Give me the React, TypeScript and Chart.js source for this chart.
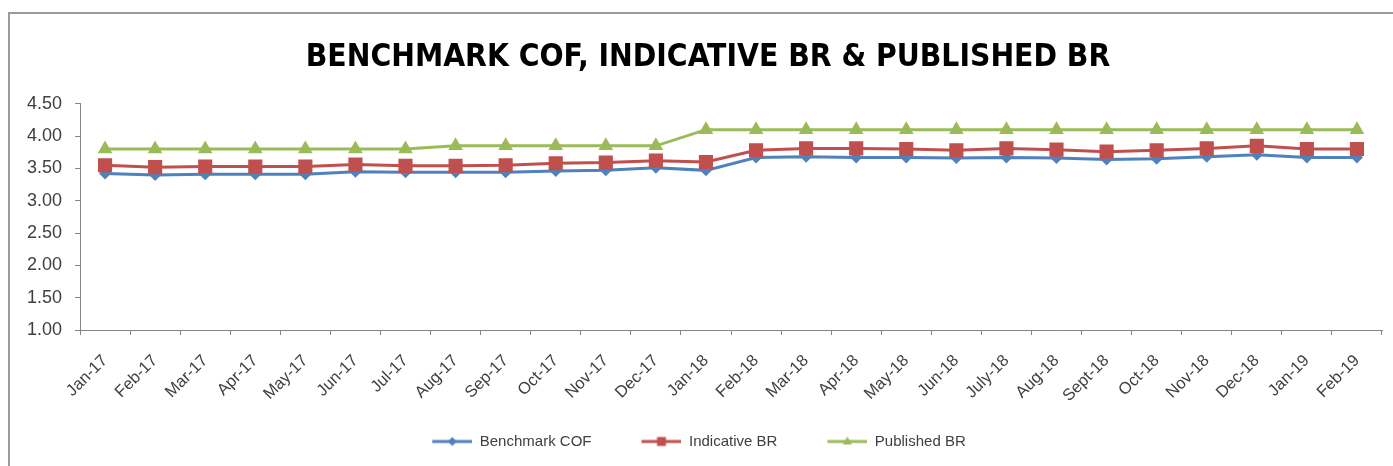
import React, { useEffect, useRef } from "react";
import { Chart, registerables } from "chart.js";

Chart.register(...registerables);

const TITLE = "BENCHMARK COF, INDICATIVE BR & PUBLISHED BR";
const MONTHS = [
  "Jan-17", "Feb-17", "Mar-17", "Apr-17", "May-17", "Jun-17", "Jul-17", "Aug-17",
  "Sep-17", "Oct-17", "Nov-17", "Dec-17", "Jan-18", "Feb-18", "Mar-18", "Apr-18",
  "May-18", "Jun-18", "July-18", "Aug-18", "Sept-18", "Oct-18", "Nov-18", "Dec-18",
  "Jan-19", "Feb-19",
];
const BENCHMARK_COF = [
  3.42, 3.40, 3.41, 3.41, 3.41, 3.45, 3.44, 3.44, 3.44, 3.46, 3.47, 3.51, 3.47,
  3.67, 3.68, 3.67, 3.67, 3.66, 3.67, 3.66, 3.64, 3.65, 3.68, 3.71, 3.67, 3.67,
];
const INDICATIVE_BR = [
  3.55, 3.52, 3.53, 3.53, 3.53, 3.56, 3.54, 3.54, 3.55, 3.58, 3.59, 3.62, 3.60,
  3.78, 3.81, 3.81, 3.80, 3.78, 3.81, 3.79, 3.76, 3.78, 3.81, 3.85, 3.80, 3.80,
];
const PUBLISHED_BR = [
  3.80, 3.80, 3.80, 3.80, 3.80, 3.80, 3.80, 3.85, 3.85, 3.85, 3.85, 3.85, 4.10,
  4.10, 4.10, 4.10, 4.10, 4.10, 4.10, 4.10, 4.10, 4.10, 4.10, 4.10, 4.10, 4.10,
];
const SERIES_NAMES = ["Benchmark COF", "Indicative BR", "Published BR"];
const COLORS = ["#4F81BD", "#C0504D", "#9BBB59"];
const Y_MIN = 1.0;
const Y_MAX = 4.5;
const Y_STEP = 0.5;

const ICON_GAP = 20;

function legendIcon(color: string, kind: string): HTMLCanvasElement {
  const c = document.createElement("canvas");
  c.width = 40 + ICON_GAP;
  c.height = 14;
  const ctx = c.getContext("2d")!;
  ctx.translate(ICON_GAP, 0);
  ctx.strokeStyle = color;
  ctx.lineWidth = 3;
  ctx.beginPath();
  ctx.moveTo(0, 7);
  ctx.lineTo(40, 7);
  ctx.stroke();
  ctx.fillStyle = color;
  ctx.beginPath();
  if (kind === "diamond") {
    ctx.moveTo(20, 2.5);
    ctx.lineTo(24.5, 7);
    ctx.lineTo(20, 11.5);
    ctx.lineTo(15.5, 7);
  } else if (kind === "square") {
    ctx.rect(15.5, 2.5, 9, 9);
  } else {
    ctx.moveTo(20, 2);
    ctx.lineTo(24.5, 10);
    ctx.lineTo(15.5, 10);
  }
  ctx.closePath();
  ctx.fill();
  return c;
}

const shiftBlocks = {
  id: "shiftBlocks",
  afterLayout(chart: any) {
    const t = chart.titleBlock;
    if (t) t.left += 24;
    const l = chart.legend;
    if (l) l.left -= 14;
  },
};

export default function App() {
  const ref = useRef<HTMLCanvasElement | null>(null);

  useEffect(() => {
    if (!ref.current) return;
    const icons = [
      legendIcon(COLORS[0], "diamond"),
      legendIcon(COLORS[1], "square"),
      legendIcon(COLORS[2], "triangle"),
    ];
    const chart = new Chart(ref.current, {
      type: "line",
      plugins: [shiftBlocks],
      data: {
        labels: MONTHS,
        datasets: [
          {
            label: SERIES_NAMES[0],
            data: BENCHMARK_COF,
            borderColor: COLORS[0],
            backgroundColor: COLORS[0],
            borderWidth: 3,
            pointStyle: "rectRot",
            pointRadius: 6,
            pointBorderWidth: 0,
            order: 2,
          },
          {
            label: SERIES_NAMES[1],
            data: INDICATIVE_BR,
            borderColor: COLORS[1],
            backgroundColor: COLORS[1],
            borderWidth: 3,
            pointStyle: "rect",
            pointRadius: 10,
            pointBorderWidth: 0,
            order: 1,
          },
          {
            label: SERIES_NAMES[2],
            data: PUBLISHED_BR,
            borderColor: COLORS[2],
            backgroundColor: COLORS[2],
            borderWidth: 3,
            pointStyle: "triangle",
            pointRadius: 8.5,
            pointBorderWidth: 0,
            order: 0,
          },
        ],
      },
      options: {
        animation: false,
        responsive: true,
        maintainAspectRatio: false,
        layout: { padding: { left: 0, right: 11, top: 20, bottom: 7 } },
        plugins: {
          tooltip: { enabled: false },
          title: {
            display: true,
            text: TITLE,
            color: "#000000",
            font: { family: "'DejaVu Sans Condensed', 'Liberation Sans', Arial, sans-serif", size: 31.5, weight: "bold" },
            padding: { top: 5, bottom: 27 },
          },
          legend: {
            position: "bottom",
            labels: {
              usePointStyle: true,
              pointStyleWidth: 40 + ICON_GAP,
              generateLabels: (ch: any) =>
                ch.data.datasets.map((ds: any, i: number) => ({
                  text: ds.label,
                  pointStyle: icons[i],
                  fillStyle: COLORS[i],
                  strokeStyle: COLORS[i],
                  lineWidth: 0,
                  datasetIndex: i,
                  hidden: false,
                  fontColor: "#404040",
                })),
              color: "#404040",
              font: { family: "'Liberation Sans', Arial, sans-serif", size: 15 },
              padding: 30,
            },
          },
        },
        scales: {
          x: {
            offset: true,
            grid: {
              display: true,
              drawOnChartArea: false,
              drawTicks: true,
              tickLength: 5,
              color: "#868686",
              offset: true,
            },
            border: { display: true, color: "#868686", width: 1 },
            ticks: {
              autoSkip: false,
              minRotation: 45,
              maxRotation: 45,
              padding: 16,
              color: "#404040",
              font: { family: "'Liberation Sans', Arial, sans-serif", size: 16.5 },
            },
            afterFit: (s: any) => {
              s.height = 74;
            },
          },
          y: {
            min: Y_MIN,
            max: Y_MAX,
            grid: {
              display: true,
              drawOnChartArea: false,
              drawTicks: true,
              tickLength: 5,
              color: "#868686",
            },
            border: { display: true, color: "#868686", width: 1 },
            ticks: {
              stepSize: Y_STEP,
              padding: 13,
              color: "#404040",
              font: { family: "'Liberation Sans', Arial, sans-serif", size: 18 },
              callback: (v: any) => Number(v).toFixed(2),
            },
            afterFit: (s: any) => {
              s.width = 70;
            },
          },
        },
      },
    });
    return () => chart.destroy();
  }, []);

  return (
    <div
      style={{
        position: "absolute",
        left: 8,
        top: 12,
        width: 1385,
        height: 454,
        boxSizing: "border-box",
        borderTop: "2px solid #9a9a9a",
        borderLeft: "2px solid #9a9a9a",
        background: "#ffffff",
      }}
    >
      <div style={{ position: "relative", width: 1383, height: 452 }}>
        <canvas ref={ref} />
      </div>
    </div>
  );
}
